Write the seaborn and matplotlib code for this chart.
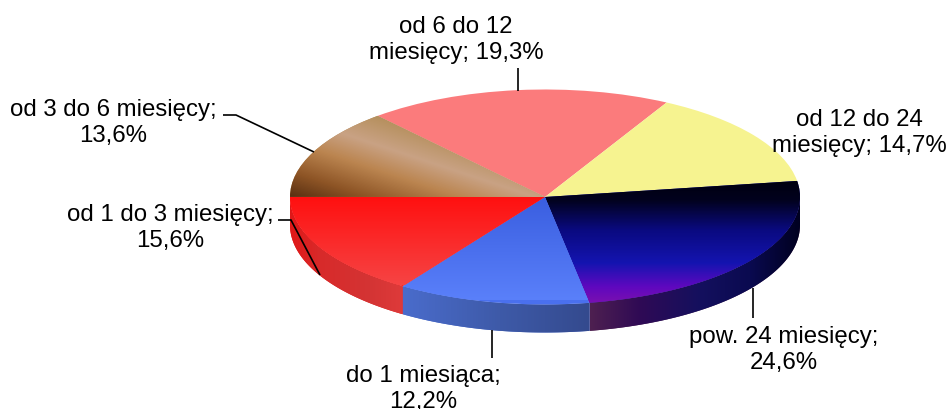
import numpy as np
import matplotlib
matplotlib.use('Agg')
import matplotlib.pyplot as plt
from matplotlib.colors import LinearSegmentedColormap
from matplotlib.patches import Polygon
import seaborn as sns

# data
categories = ['od 6 do 12\nmiesięcy;', 'od 12 do 24\nmiesięcy;', 'pow. 24 miesięcy;\n',
              'do 1 miesiąca;\n', 'od 1 do 3 miesięcy;\n', 'od 3 do 6 miesięcy;\n']
values = [19.3, 14.7, 24.6, 12.2, 15.6, 13.6]
flat_colors = ['#fb7b7c', '#f6f390', '#0a0a80', '#4a70ee', '#f82a28', '#b58f5c']

sns.set_theme(style='white')
plt.rcParams['font.family'] = ['Liberation Sans', 'DejaVu Sans']

W, H = 949, 409
cx, cy, rx, ry, depth = 545.0, 197.0, 255.0, 107.5, 28.0


def to_x(px):
    return (px - cx) / rx


def to_y(py):
    return (cy - py) / ry


def cmap_from(stops):
    lo, hi = stops[0][0], stops[-1][0]
    return LinearSegmentedColormap.from_list('g', [((p - lo) / (hi - lo), c) for p, c in stops]), lo, hi


def vertical_fill(ax, patch, stops):
    cmap, lo, hi = cmap_from(stops)
    im = ax.imshow(np.linspace(0, 1, 256).reshape(-1, 1), cmap=cmap, aspect='auto', origin='upper',
                   extent=(to_x(0), to_x(W), to_y(hi), to_y(lo)), zorder=3)
    im.set_clip_path(patch)


def horizontal_fill(ax, patch, stops):
    cmap, lo, hi = cmap_from(stops)
    im = ax.imshow(np.linspace(0, 1, 256).reshape(1, -1), cmap=cmap, aspect='auto',
                   extent=(to_x(lo), to_x(hi), to_y(H), to_y(0)), zorder=1.5)
    im.set_clip_path(patch)


def diagonal_fill(ax, patch, stops, slope):
    cmap, lo, hi = cmap_from(stops)
    xx, yy = np.meshgrid(np.arange(280, 560), np.arange(100, 210))
    t = (yy - slope * xx - lo) / (hi - lo)
    im = ax.imshow(t, cmap=cmap, vmin=0, vmax=1, aspect='auto', origin='upper',
                   extent=(to_x(280), to_x(560), to_y(210), to_y(100)), zorder=3)
    im.set_clip_path(patch)


fig = plt.figure(figsize=(W / 100, H / 100), dpi=100, facecolor='white')
ax = fig.add_axes([0, 0, 1, 1])
wedges, _ = ax.pie(values, colors=flat_colors, startangle=131, counterclock=False, radius=1,
                   wedgeprops={'linewidth': 0, 'zorder': 2})
ax.set_aspect('auto')

# rim of the disc, only the front half shows
side_stops = {
    2: [(590, '#4e2050'), (640, '#2f0a55'), (700, '#14105e'), (750, '#0a0a50'), (800, '#000020')],
    3: [(402, '#4a6ccc'), (500, '#3e5aa8'), (590, '#344a8e')],
    4: [(290, '#e01818'), (320, '#d82a2a'), (370, '#d43434'), (402, '#de3a3a')],
}
for i, stops in side_stops.items():
    a0 = max(wedges[i].theta1, -180)
    a1 = min(wedges[i].theta2, 0)
    th = np.radians(np.linspace(a0, a1, 80))
    top = np.column_stack([np.cos(th), np.sin(th)])
    bottom = np.column_stack([np.cos(th[::-1]), np.sin(th[::-1]) - depth / ry])
    rim = Polygon(np.vstack([top, bottom]), closed=True, facecolor=stops[0][1], linewidth=0, zorder=1)
    ax.add_patch(rim)
    horizontal_fill(ax, rim, stops)

# shaded slices
vertical_fill(ax, wedges[2], [(181, '#000010'), (200, '#02021e'), (230, '#0a0a80'), (263, '#1414b0'),
                              (287, '#5f08bf'), (303, '#7a10b0')])
vertical_fill(ax, wedges[3], [(197, '#3a5ee0'), (300, '#5a80fa')])
vertical_fill(ax, wedges[4], [(197, '#ff1010'), (285, '#f64444')])
diagonal_fill(ax, wedges[5], [(-10, '#b58f5c'), (20, '#c9a284'), (45, '#bb8550'), (75, '#8e5526'),
                              (100, '#5a3012')], 0.33)

ax.set_xlim(to_x(0), to_x(W))
ax.set_ylim(to_y(H), to_y(0))
ax.axis('off')

# labels and leader lines in pixel coordinates
over = fig.add_axes([0, 0, 1, 1], facecolor='none')

label_pos = [(456, 40), (859, 133), (784, 350), (423, 389), (170, 228), (113, 123)]
for cat, val, (lx, ly) in zip(categories, values, label_pos):
    sep = '' if cat.endswith('\n') else ' '
    txt = cat + sep + f'{val:.1f}%'.replace('.', ',')
    over.text(lx, ly, txt, ha='center', va='center', fontsize=17.3, color='black',
              linespacing=1.27, clip_on=False)

leaders = [
    ([518, 518], [68, 91]),
    ([223, 236, 314], [115, 115, 152]),
    ([278, 291, 320], [220, 220, 275]),
    ([492, 492], [330, 358]),
    ([753, 753], [288, 318]),
]
for lx, ly in leaders:
    over.plot(lx, ly, color='black', lw=1.2, solid_capstyle='butt', solid_joinstyle='miter')
over.set_xlim(0, W)
over.set_ylim(H, 0)
over.axis('off')

fig.savefig('out.png', dpi=100)
plt.close(fig)
